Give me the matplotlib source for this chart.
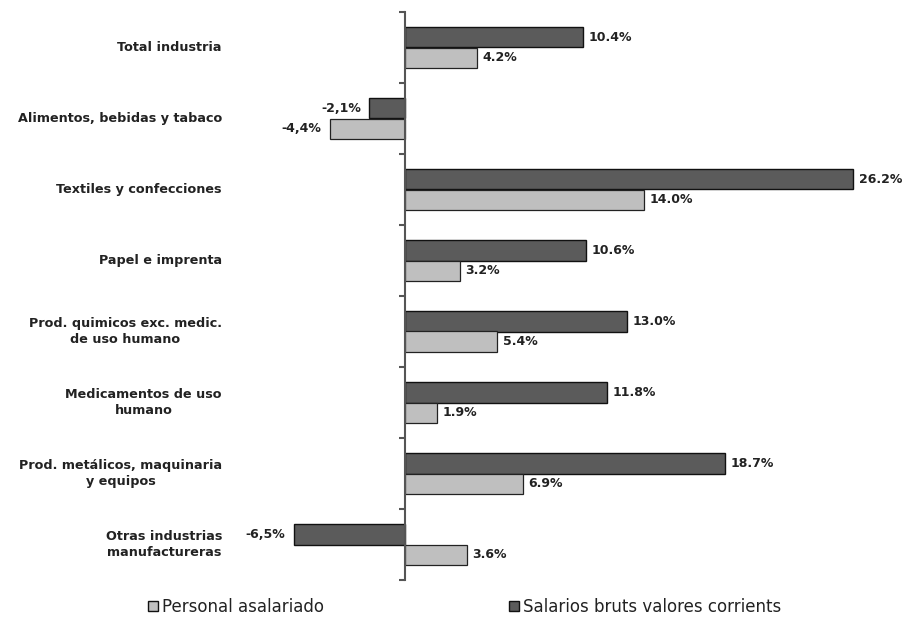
import matplotlib.pyplot as plt
import numpy as np
from matplotlib.patches import Patch
from matplotlib.transforms import blended_transform_factory

categories = [
    "Total industria",
    "Alimentos, bebidas y tabaco",
    "Textiles y confecciones",
    "Papel e imprenta",
    "Prod. quimicos exc. medic.\nde uso humano",
    "Medicamentos de uso\nhumano",
    "Prod. metálicos, maquinaria\ny equipos",
    "Otras industrias\nmanufactureras",
]
salarios = [10.4, -2.1, 26.2, 10.6, 13.0, 11.8, 18.7, -6.5]
personal = [4.2, -4.4, 14.0, 3.2, 5.4, 1.9, 6.9, 3.6]

series_names = ["Personal asalariado", "Salarios bruts valores corrients"]
DARK = "#5b5b5b"
LIGHT = "#bfbfbf"


def fmt(v):
    if v < 0:
        return f"{v:.1f}%".replace(".", ",")
    return f"{v:.1f}%"


W, H = 904, 624
fig = plt.figure(figsize=(W / 100, H / 100), dpi=100)
fig.patch.set_facecolor("white")

# axes span in pixels: x 230..890, y 12..580 (from top)
ax = fig.add_axes([230 / W, (H - 580) / H, 660 / W, 568 / H])
px_per_unit = 17.1
ax.set_xlim(-(405 - 230) / px_per_unit, (890 - 405) / px_per_unit)
ax.set_ylim(len(categories) - 0.5, -0.5)

y = np.arange(len(categories))
bh = 0.29
ax.barh(y - bh / 2, salarios, height=bh, color=DARK, edgecolor="#111111", linewidth=1.0)
ax.barh(y + bh / 2, personal, height=bh, color=LIGHT, edgecolor="#222222", linewidth=0.9)

for yi, v in zip(y - bh / 2, salarios):
    off, ha = (4, "left") if v >= 0 else (-6, "right")
    ax.annotate(fmt(v), (v, yi), xytext=(off, 0), textcoords="offset points",
                ha=ha, va="center", fontsize=9, fontweight="bold", color="#222222")
for yi, v in zip(y + bh / 2, personal):
    off, ha = (4, "left") if v >= 0 else (-6, "right")
    ax.annotate(fmt(v), (v, yi), xytext=(off, 0), textcoords="offset points",
                ha=ha, va="center", fontsize=9, fontweight="bold", color="#222222")

# category names to the left of the plot
trans = blended_transform_factory(fig.transFigure, ax.transData)
for yi, name in zip(y, categories):
    fig.text(222 / W, yi, name, transform=trans, ha="right", va="center",
             multialignment="center", fontsize=9.2, fontweight="bold",
             color="#222222", linespacing=1.35)

for s in ["top", "right", "bottom"]:
    ax.spines[s].set_visible(False)
ax.spines["left"].set_position(("data", 0))
ax.spines["left"].set_color("#555555")
ax.spines["left"].set_linewidth(1.5)
ax.set_xticks([])
ax.set_yticks(np.arange(len(categories) + 1) - 0.5)
ax.set_yticklabels([])
ax.tick_params(axis="y", direction="out", length=4, width=1.5, color="#555555")

handles = [
    Patch(facecolor=LIGHT, edgecolor="#111111", linewidth=1.0),
    Patch(facecolor=DARK, edgecolor="#111111", linewidth=1.0),
]
fig.legend(handles, series_names, loc="center left",
           bbox_to_anchor=(148 / W, 1 - 607 / H), ncol=2, frameon=False,
           fontsize=12, handlelength=0.6, handleheight=0.6, handletextpad=0.25,
           columnspacing=11.1, borderpad=0, borderaxespad=0,
           labelcolor="#222222")

fig.savefig("out.png", dpi=100, facecolor="white")
